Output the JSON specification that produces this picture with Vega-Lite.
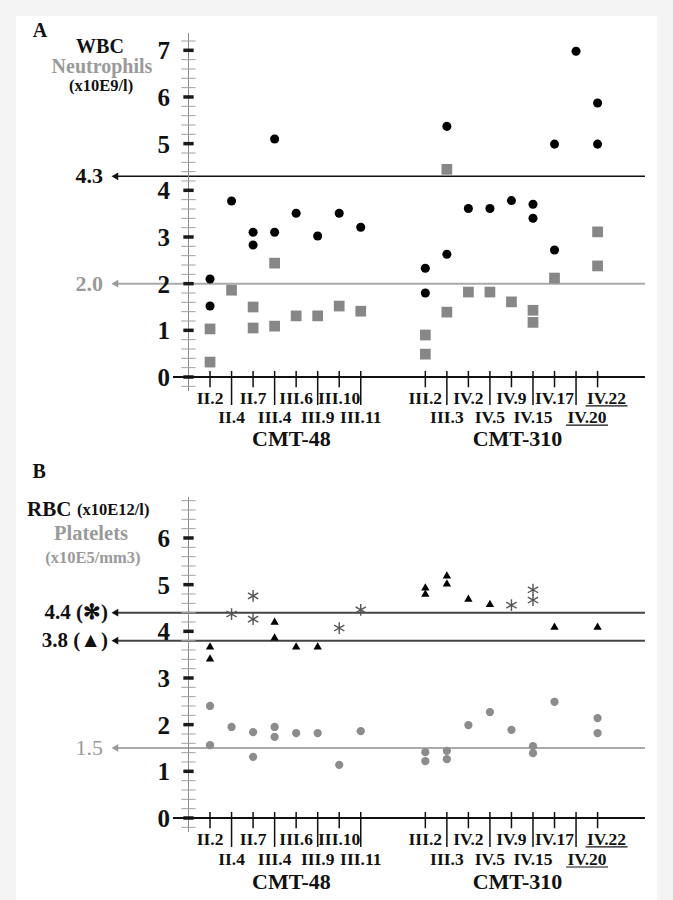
{
  "$schema": "https://vega.github.io/schema/vega-lite/v6.json",
  "background": "#f4f4f4",
  "padding": {"left": 16, "top": 16, "right": 16, "bottom": 0},
  "spacing": 0,
  "config": {"view": {"fill": "white", "stroke": null}},
  "datasets": {
    "subj": [
      {"s": "II.2", "i": 1, "row": 1, "grp": "CMT-48", "ul": false},
      {"s": "II.4", "i": 2, "row": 2, "grp": "CMT-48", "ul": false},
      {"s": "II.7", "i": 3, "row": 1, "grp": "CMT-48", "ul": false},
      {"s": "III.4", "i": 4, "row": 2, "grp": "CMT-48", "ul": false},
      {"s": "III.6", "i": 5, "row": 1, "grp": "CMT-48", "ul": false},
      {"s": "III.9", "i": 6, "row": 2, "grp": "CMT-48", "ul": false},
      {"s": "III.10", "i": 7, "row": 1, "grp": "CMT-48", "ul": false},
      {"s": "III.11", "i": 8, "row": 2, "grp": "CMT-48", "ul": false},
      {"s": "III.2", "i": 11, "row": 1, "grp": "CMT-310", "ul": false},
      {"s": "III.3", "i": 12, "row": 2, "grp": "CMT-310", "ul": false},
      {"s": "IV.2", "i": 13, "row": 1, "grp": "CMT-310", "ul": false},
      {"s": "IV.5", "i": 14, "row": 2, "grp": "CMT-310", "ul": false},
      {"s": "IV.9", "i": 15, "row": 1, "grp": "CMT-310", "ul": false},
      {"s": "IV.15", "i": 16, "row": 2, "grp": "CMT-310", "ul": false},
      {"s": "IV.17", "i": 17, "row": 1, "grp": "CMT-310", "ul": false},
      {"s": "IV.20", "i": 18, "row": 2, "grp": "CMT-310", "ul": true},
      {"s": "IV.22", "i": 19, "row": 1, "grp": "CMT-310", "ul": true}
    ],
    "pa": [
      {"s": "II.2", "i": 1, "m": "WBC", "v": 2.10},
      {"s": "II.2", "i": 1, "m": "WBC", "v": 1.52},
      {"s": "II.2", "i": 1, "m": "Neu", "v": 1.03},
      {"s": "II.2", "i": 1, "m": "Neu", "v": 0.32},
      {"s": "II.4", "i": 2, "m": "WBC", "v": 3.77},
      {"s": "II.4", "i": 2, "m": "Neu", "v": 1.86},
      {"s": "II.7", "i": 3, "m": "WBC", "v": 3.10},
      {"s": "II.7", "i": 3, "m": "WBC", "v": 2.83},
      {"s": "II.7", "i": 3, "m": "Neu", "v": 1.50},
      {"s": "II.7", "i": 3, "m": "Neu", "v": 1.05},
      {"s": "III.4", "i": 4, "m": "WBC", "v": 5.10},
      {"s": "III.4", "i": 4, "m": "WBC", "v": 3.10},
      {"s": "III.4", "i": 4, "m": "Neu", "v": 2.44},
      {"s": "III.4", "i": 4, "m": "Neu", "v": 1.09},
      {"s": "III.6", "i": 5, "m": "WBC", "v": 3.51},
      {"s": "III.6", "i": 5, "m": "Neu", "v": 1.31},
      {"s": "III.9", "i": 6, "m": "WBC", "v": 3.02},
      {"s": "III.9", "i": 6, "m": "Neu", "v": 1.31},
      {"s": "III.10", "i": 7, "m": "WBC", "v": 3.51},
      {"s": "III.10", "i": 7, "m": "Neu", "v": 1.52},
      {"s": "III.11", "i": 8, "m": "WBC", "v": 3.21},
      {"s": "III.11", "i": 8, "m": "Neu", "v": 1.41},
      {"s": "III.2", "i": 11, "m": "WBC", "v": 2.33},
      {"s": "III.2", "i": 11, "m": "WBC", "v": 1.80},
      {"s": "III.2", "i": 11, "m": "Neu", "v": 0.90},
      {"s": "III.2", "i": 11, "m": "Neu", "v": 0.49},
      {"s": "III.3", "i": 12, "m": "WBC", "v": 5.37},
      {"s": "III.3", "i": 12, "m": "WBC", "v": 2.63},
      {"s": "III.3", "i": 12, "m": "Neu", "v": 4.45},
      {"s": "III.3", "i": 12, "m": "Neu", "v": 1.39},
      {"s": "IV.2", "i": 13, "m": "WBC", "v": 3.61},
      {"s": "IV.2", "i": 13, "m": "Neu", "v": 1.82},
      {"s": "IV.5", "i": 14, "m": "WBC", "v": 3.61},
      {"s": "IV.5", "i": 14, "m": "Neu", "v": 1.82},
      {"s": "IV.9", "i": 15, "m": "WBC", "v": 3.78},
      {"s": "IV.9", "i": 15, "m": "Neu", "v": 1.61},
      {"s": "IV.15", "i": 16, "m": "WBC", "v": 3.70},
      {"s": "IV.15", "i": 16, "m": "WBC", "v": 3.40},
      {"s": "IV.15", "i": 16, "m": "Neu", "v": 1.43},
      {"s": "IV.15", "i": 16, "m": "Neu", "v": 1.17},
      {"s": "IV.17", "i": 17, "m": "WBC", "v": 4.99},
      {"s": "IV.17", "i": 17, "m": "WBC", "v": 2.72},
      {"s": "IV.17", "i": 17, "m": "Neu", "v": 2.12},
      {"s": "IV.20", "i": 18, "m": "WBC", "v": 6.98},
      {"s": "IV.22", "i": 19, "m": "WBC", "v": 5.87},
      {"s": "IV.22", "i": 19, "m": "WBC", "v": 4.99},
      {"s": "IV.22", "i": 19, "m": "Neu", "v": 3.11},
      {"s": "IV.22", "i": 19, "m": "Neu", "v": 2.38}
    ],
    "pb": [
      {"s": "II.2", "i": 1, "m": "RBC_F", "v": 3.69},
      {"s": "II.2", "i": 1, "m": "RBC_F", "v": 3.43},
      {"s": "II.2", "i": 1, "m": "PLT", "v": 2.40},
      {"s": "II.2", "i": 1, "m": "PLT", "v": 1.56},
      {"s": "II.4", "i": 2, "m": "RBC_M", "v": 4.37},
      {"s": "II.4", "i": 2, "m": "PLT", "v": 1.95},
      {"s": "II.7", "i": 3, "m": "RBC_M", "v": 4.76},
      {"s": "II.7", "i": 3, "m": "RBC_M", "v": 4.26},
      {"s": "II.7", "i": 3, "m": "PLT", "v": 1.84},
      {"s": "II.7", "i": 3, "m": "PLT", "v": 1.31},
      {"s": "III.4", "i": 4, "m": "RBC_F", "v": 4.22},
      {"s": "III.4", "i": 4, "m": "RBC_F", "v": 3.88},
      {"s": "III.4", "i": 4, "m": "PLT", "v": 1.95},
      {"s": "III.4", "i": 4, "m": "PLT", "v": 1.74},
      {"s": "III.6", "i": 5, "m": "RBC_F", "v": 3.69},
      {"s": "III.6", "i": 5, "m": "PLT", "v": 1.82},
      {"s": "III.9", "i": 6, "m": "RBC_F", "v": 3.69},
      {"s": "III.9", "i": 6, "m": "PLT", "v": 1.82},
      {"s": "III.10", "i": 7, "m": "RBC_M", "v": 4.07},
      {"s": "III.10", "i": 7, "m": "PLT", "v": 1.14},
      {"s": "III.11", "i": 8, "m": "RBC_M", "v": 4.46},
      {"s": "III.11", "i": 8, "m": "PLT", "v": 1.86},
      {"s": "III.2", "i": 11, "m": "RBC_F", "v": 4.95},
      {"s": "III.2", "i": 11, "m": "RBC_F", "v": 4.82},
      {"s": "III.2", "i": 11, "m": "PLT", "v": 1.41},
      {"s": "III.2", "i": 11, "m": "PLT", "v": 1.22},
      {"s": "III.3", "i": 12, "m": "RBC_F", "v": 5.21},
      {"s": "III.3", "i": 12, "m": "RBC_F", "v": 5.04},
      {"s": "III.3", "i": 12, "m": "PLT", "v": 1.44},
      {"s": "III.3", "i": 12, "m": "PLT", "v": 1.26},
      {"s": "IV.2", "i": 13, "m": "RBC_F", "v": 4.71},
      {"s": "IV.2", "i": 13, "m": "PLT", "v": 1.99},
      {"s": "IV.5", "i": 14, "m": "RBC_F", "v": 4.60},
      {"s": "IV.5", "i": 14, "m": "PLT", "v": 2.27},
      {"s": "IV.9", "i": 15, "m": "RBC_M", "v": 4.56},
      {"s": "IV.9", "i": 15, "m": "PLT", "v": 1.89},
      {"s": "IV.15", "i": 16, "m": "RBC_M", "v": 4.89},
      {"s": "IV.15", "i": 16, "m": "RBC_M", "v": 4.67},
      {"s": "IV.15", "i": 16, "m": "PLT", "v": 1.54},
      {"s": "IV.15", "i": 16, "m": "PLT", "v": 1.39},
      {"s": "IV.17", "i": 17, "m": "RBC_F", "v": 4.11},
      {"s": "IV.17", "i": 17, "m": "PLT", "v": 2.49},
      {"s": "IV.22", "i": 19, "m": "RBC_F", "v": 4.11},
      {"s": "IV.22", "i": 19, "m": "PLT", "v": 2.14},
      {"s": "IV.22", "i": 19, "m": "PLT", "v": 1.82}
    ],
    "majA": [{"v": 0}, {"v": 1}, {"v": 2}, {"v": 3}, {"v": 4}, {"v": 5}, {"v": 6}, {"v": 7}],
    "majB": [{"v": 0}, {"v": 1}, {"v": 2}, {"v": 3}, {"v": 4}, {"v": 5}, {"v": 6}],
    "minA": [{"v": -0.2}, {"v": 0.2}, {"v": 0.4}, {"v": 0.6}, {"v": 0.8}, {"v": 1.2}, {"v": 1.4}, {"v": 1.6}, {"v": 1.8}, {"v": 2.2}, {"v": 2.4}, {"v": 2.6}, {"v": 2.8}, {"v": 3.2}, {"v": 3.4}, {"v": 3.6}, {"v": 3.8}, {"v": 4.2}, {"v": 4.4}, {"v": 4.6}, {"v": 4.8}, {"v": 5.2}, {"v": 5.4}, {"v": 5.6}, {"v": 5.8}, {"v": 6.2}, {"v": 6.4}, {"v": 6.6}, {"v": 6.8}, {"v": 7.2}],
    "minB": [{"v": -0.2}, {"v": 0.2}, {"v": 0.4}, {"v": 0.6}, {"v": 0.8}, {"v": 1.2}, {"v": 1.4}, {"v": 1.6}, {"v": 1.8}, {"v": 2.2}, {"v": 2.4}, {"v": 2.6}, {"v": 2.8}, {"v": 3.2}, {"v": 3.4}, {"v": 3.6}, {"v": 3.8}, {"v": 4.2}, {"v": 4.4}, {"v": 4.6}, {"v": 4.8}, {"v": 5.2}, {"v": 5.4}, {"v": 5.6}, {"v": 5.8}, {"v": 6.2}, {"v": 6.4}, {"v": 6.6}, {"v": 6.8}]
  },
  "vconcat": [
    {
      "width": 641,
      "height": 434,
      "layer": [
        {"data": {"values": [{"ref": 4.3, "lab": "4.3"}]},
         "encoding": {"y": {"field": "ref", "type": "quantitative", "scale": {"domain": [-1.564, 7.735], "nice": false, "zero": false}, "axis": null}},
         "layer": [
           {"mark": {"type": "rule", "color": "#111111", "strokeWidth": 1.5},
            "encoding": {"x": {"datum": -3.42, "type": "quantitative", "scale": {"domain": [-8.012, 21.76], "nice": false, "zero": false}, "axis": null}, "x2": {"datum": 21.2}}},
           {"mark": {"type": "point", "shape": "triangle-left", "filled": true, "color": "#111111", "size": 60, "opacity": 1},
            "encoding": {"x": {"datum": -3.42, "type": "quantitative", "scale": {"domain": [-8.012, 21.76], "nice": false, "zero": false}, "axis": null}}},
           {"mark": {"type": "text", "align": "right", "baseline": "middle", "font": "Liberation Serif", "fontWeight": "bold", "fontSize": 22, "color": "#111111"},
            "encoding": {"x": {"datum": -3.97, "type": "quantitative", "scale": {"domain": [-8.012, 21.76], "nice": false, "zero": false}, "axis": null}, "text": {"field": "lab"}}}
         ]},
        {"data": {"values": [{"ref": 2.0, "lab": "2.0"}]},
         "encoding": {"y": {"field": "ref", "type": "quantitative", "scale": {"domain": [-1.564, 7.735], "nice": false, "zero": false}, "axis": null}},
         "layer": [
           {"mark": {"type": "rule", "color": "#aaaaaa", "strokeWidth": 2},
            "encoding": {"x": {"datum": -3.42, "type": "quantitative", "scale": {"domain": [-8.012, 21.76], "nice": false, "zero": false}, "axis": null}, "x2": {"datum": 21.2}}},
           {"mark": {"type": "point", "shape": "triangle-left", "filled": true, "color": "#9a9a9a", "size": 60, "opacity": 1},
            "encoding": {"x": {"datum": -3.42, "type": "quantitative", "scale": {"domain": [-8.012, 21.76], "nice": false, "zero": false}, "axis": null}}},
           {"mark": {"type": "text", "align": "right", "baseline": "middle", "font": "Liberation Serif", "fontWeight": "bold", "fontSize": 22, "color": "#9a9a9a"},
            "encoding": {"x": {"datum": -3.97, "type": "quantitative", "scale": {"domain": [-8.012, 21.76], "nice": false, "zero": false}, "axis": null}, "text": {"field": "lab"}}}
         ]},
        {"data": {"values": [{}]},
         "mark": {"type": "rule", "color": "#8a8a8a", "strokeWidth": 1},
         "encoding": {"x": {"datum": 0, "type": "quantitative", "scale": {"domain": [-8.012, 21.76], "nice": false, "zero": false}, "axis": null},
                      "y": {"datum": -0.3, "type": "quantitative", "scale": {"domain": [-1.564, 7.735], "nice": false, "zero": false}, "axis": null},
                      "y2": {"datum": 7.37}}},
        {"data": {"name": "minA"},
         "mark": {"type": "rule", "color": "#a0a0a0", "strokeWidth": 1},
         "encoding": {"x": {"datum": -0.33, "type": "quantitative", "scale": {"domain": [-8.012, 21.76], "nice": false, "zero": false}, "axis": null},
                      "x2": {"datum": 0.33},
                      "y": {"field": "v", "type": "quantitative", "scale": {"domain": [-1.564, 7.735], "nice": false, "zero": false}, "axis": null}}},
        {"data": {"name": "majA"},
         "encoding": {"y": {"field": "v", "type": "quantitative", "scale": {"domain": [-1.564, 7.735], "nice": false, "zero": false}, "axis": null}},
         "layer": [
           {"mark": {"type": "rule", "color": "#1a1a1a", "strokeWidth": 3.5},
            "encoding": {"x": {"datum": -0.24, "type": "quantitative", "scale": {"domain": [-8.012, 21.76], "nice": false, "zero": false}, "axis": null}, "x2": {"datum": 0.24}}},
           {"mark": {"type": "text", "align": "right", "baseline": "middle", "font": "Liberation Serif", "fontWeight": "bold", "fontSize": 25, "color": "#111111", "dy": 1},
            "encoding": {"x": {"datum": -0.86, "type": "quantitative", "scale": {"domain": [-8.012, 21.76], "nice": false, "zero": false}, "axis": null}, "text": {"field": "v", "type": "quantitative"}}}
         ]},
        {"data": {"values": [{}]},
         "mark": {"type": "rule", "color": "#111111", "strokeWidth": 2},
         "encoding": {"x": {"datum": -0.72, "type": "quantitative", "scale": {"domain": [-8.012, 21.76], "nice": false, "zero": false}, "axis": null},
                      "x2": {"datum": 21.2},
                      "y": {"datum": 0, "type": "quantitative", "scale": {"domain": [-1.564, 7.735], "nice": false, "zero": false}, "axis": null}}},
        {"data": {"name": "subj"},
         "encoding": {"x": {"field": "i", "type": "quantitative", "scale": {"domain": [-8.012, 21.76], "nice": false, "zero": false}, "axis": null}},
         "layer": [
           {"transform": [{"filter": "datum.row == 1"}],
            "mark": {"type": "rule", "color": "#111111", "strokeWidth": 1.5},
            "encoding": {"y": {"datum": 0.13, "type": "quantitative", "scale": {"domain": [-1.564, 7.735], "nice": false, "zero": false}, "axis": null}, "y2": {"datum": -0.22}}},
           {"transform": [{"filter": "datum.row == 2"}],
            "mark": {"type": "rule", "color": "#111111", "strokeWidth": 1.5},
            "encoding": {"y": {"datum": 0.13, "type": "quantitative", "scale": {"domain": [-1.564, 7.735], "nice": false, "zero": false}, "axis": null}, "y2": {"datum": -0.6}}},
           {"transform": [{"filter": "datum.row == 1 && !datum.ul"}],
            "mark": {"type": "text", "align": "center", "baseline": "middle", "font": "Liberation Serif", "fontWeight": "bold", "fontSize": 17.5, "color": "#111111"},
            "encoding": {"y": {"datum": -0.47, "type": "quantitative", "scale": {"domain": [-1.564, 7.735], "nice": false, "zero": false}, "axis": null}, "text": {"field": "s"}}},
           {"transform": [{"filter": "datum.row == 2 && !datum.ul"}],
            "mark": {"type": "text", "align": "center", "baseline": "middle", "font": "Liberation Serif", "fontWeight": "bold", "fontSize": 17.5, "color": "#111111"},
            "encoding": {"y": {"datum": -0.88, "type": "quantitative", "scale": {"domain": [-1.564, 7.735], "nice": false, "zero": false}, "axis": null}, "text": {"field": "s"}}},
           {"transform": [{"filter": "datum.row == 1 && datum.ul"}],
            "mark": {"type": "text", "align": "center", "baseline": "middle", "font": "Liberation Serif", "fontWeight": "bold", "fontSize": 17.5, "color": "#111111", "xOffset": 9},
            "encoding": {"y": {"datum": -0.47, "type": "quantitative", "scale": {"domain": [-1.564, 7.735], "nice": false, "zero": false}, "axis": null}, "text": {"field": "s"}}},
           {"transform": [{"filter": "datum.row == 2 && datum.ul"}],
            "mark": {"type": "text", "align": "center", "baseline": "middle", "font": "Liberation Serif", "fontWeight": "bold", "fontSize": 17.5, "color": "#111111", "xOffset": 11},
            "encoding": {"y": {"datum": -0.88, "type": "quantitative", "scale": {"domain": [-1.564, 7.735], "nice": false, "zero": false}, "axis": null}, "text": {"field": "s"}}},
           {"transform": [{"filter": "datum.row == 1 && datum.ul"}],
            "mark": {"type": "rule", "color": "#111111", "strokeWidth": 1.2, "xOffset": -12, "x2Offset": 30},
            "encoding": {"x2": {"field": "i"}, "y": {"datum": -0.62, "type": "quantitative", "scale": {"domain": [-1.564, 7.735], "nice": false, "zero": false}, "axis": null}}},
           {"transform": [{"filter": "datum.row == 2 && datum.ul"}],
            "mark": {"type": "rule", "color": "#111111", "strokeWidth": 1.2, "xOffset": -10, "x2Offset": 32},
            "encoding": {"x2": {"field": "i"}, "y": {"datum": -1.03, "type": "quantitative", "scale": {"domain": [-1.564, 7.735], "nice": false, "zero": false}, "axis": null}}},
           {"transform": [{"aggregate": [{"op": "mean", "field": "i", "as": "i"}], "groupby": ["grp"]}],
            "mark": {"type": "text", "align": "center", "baseline": "middle", "font": "Liberation Serif", "fontWeight": "bold", "fontSize": 22, "color": "#111111", "xOffset": 6},
            "encoding": {"y": {"datum": -1.32, "type": "quantitative", "scale": {"domain": [-1.564, 7.735], "nice": false, "zero": false}, "axis": null}, "text": {"field": "grp"}}}
         ]},
        {"data": {"name": "pa"},
         "transform": [{"filter": "datum.m == 'Neu'"}],
         "mark": {"type": "point", "shape": "square", "filled": true, "color": "#878787", "size": 115, "opacity": 1},
         "encoding": {"x": {"field": "i", "type": "quantitative", "scale": {"domain": [-8.012, 21.76], "nice": false, "zero": false}, "axis": null},
                      "y": {"field": "v", "type": "quantitative", "scale": {"domain": [-1.564, 7.735], "nice": false, "zero": false}, "axis": null}}},
        {"data": {"name": "pa"},
         "transform": [{"filter": "datum.m == 'WBC'"}],
         "mark": {"type": "point", "shape": "circle", "filled": true, "color": "#000000", "size": 82, "opacity": 1},
         "encoding": {"x": {"field": "i", "type": "quantitative", "scale": {"domain": [-8.012, 21.76], "nice": false, "zero": false}, "axis": null},
                      "y": {"field": "v", "type": "quantitative", "scale": {"domain": [-1.564, 7.735], "nice": false, "zero": false}, "axis": null}}},
        {"data": {"values": [
           {"t": "A", "x": -6.9, "y": 7.41, "k": "big"},
           {"t": "WBC", "x": -4.11, "y": 7.08, "k": "big"},
           {"t": "Neutrophils", "x": -4.02, "y": 6.64, "k": "gray"},
           {"t": "(x10E9/l)", "x": -4.06, "y": 6.24, "k": "small"}
         ]},
         "layer": [
           {"transform": [{"filter": "datum.k == 'big'"}],
            "mark": {"type": "text", "align": "center", "baseline": "middle", "font": "Liberation Serif", "fontWeight": "bold", "fontSize": 20, "color": "#111111"},
            "encoding": {"x": {"field": "x", "type": "quantitative", "scale": {"domain": [-8.012, 21.76], "nice": false, "zero": false}, "axis": null},
                         "y": {"field": "y", "type": "quantitative", "scale": {"domain": [-1.564, 7.735], "nice": false, "zero": false}, "axis": null},
                         "text": {"field": "t"}}},
           {"transform": [{"filter": "datum.k == 'gray'"}],
            "mark": {"type": "text", "align": "center", "baseline": "middle", "font": "Liberation Serif", "fontWeight": "bold", "fontSize": 20, "color": "#9a9a9a"},
            "encoding": {"x": {"field": "x", "type": "quantitative", "scale": {"domain": [-8.012, 21.76], "nice": false, "zero": false}, "axis": null},
                         "y": {"field": "y", "type": "quantitative", "scale": {"domain": [-1.564, 7.735], "nice": false, "zero": false}, "axis": null},
                         "text": {"field": "t"}}},
           {"transform": [{"filter": "datum.k == 'small'"}],
            "mark": {"type": "text", "align": "center", "baseline": "middle", "font": "Liberation Serif", "fontWeight": "bold", "fontSize": 16.5, "color": "#111111"},
            "encoding": {"x": {"field": "x", "type": "quantitative", "scale": {"domain": [-8.012, 21.76], "nice": false, "zero": false}, "axis": null},
                         "y": {"field": "y", "type": "quantitative", "scale": {"domain": [-1.564, 7.735], "nice": false, "zero": false}, "axis": null},
                         "text": {"field": "t"}}}
         ]}
      ]
    },
    {
      "width": 641,
      "height": 450,
      "layer": [
        {"data": {"values": [{"ref": 4.4, "lab": "4.4 (✻)"}, {"ref": 3.8, "lab": "3.8 (▲)"}]},
         "encoding": {"y": {"field": "ref", "type": "quantitative", "scale": {"domain": [-1.757, 7.885], "nice": false, "zero": false}, "axis": null}},
         "layer": [
           {"mark": {"type": "rule", "color": "#444444", "strokeWidth": 2},
            "encoding": {"x": {"datum": -3.42, "type": "quantitative", "scale": {"domain": [-8.012, 21.76], "nice": false, "zero": false}, "axis": null}, "x2": {"datum": 21.2}}},
           {"mark": {"type": "point", "shape": "triangle-left", "filled": true, "color": "#111111", "size": 60, "opacity": 1},
            "encoding": {"x": {"datum": -3.42, "type": "quantitative", "scale": {"domain": [-8.012, 21.76], "nice": false, "zero": false}, "axis": null}}},
           {"mark": {"type": "text", "align": "right", "baseline": "middle", "font": "Liberation Serif", "fontWeight": "bold", "fontSize": 21, "color": "#111111"},
            "encoding": {"x": {"datum": -3.74, "type": "quantitative", "scale": {"domain": [-8.012, 21.76], "nice": false, "zero": false}, "axis": null}, "text": {"field": "lab"}}}
         ]},
        {"data": {"values": [{"ref": 1.5, "lab": "1.5"}]},
         "encoding": {"y": {"field": "ref", "type": "quantitative", "scale": {"domain": [-1.757, 7.885], "nice": false, "zero": false}, "axis": null}},
         "layer": [
           {"mark": {"type": "rule", "color": "#aaaaaa", "strokeWidth": 2},
            "encoding": {"x": {"datum": -3.42, "type": "quantitative", "scale": {"domain": [-8.012, 21.76], "nice": false, "zero": false}, "axis": null}, "x2": {"datum": 21.2}}},
           {"mark": {"type": "point", "shape": "triangle-left", "filled": true, "color": "#9a9a9a", "size": 60, "opacity": 1},
            "encoding": {"x": {"datum": -3.42, "type": "quantitative", "scale": {"domain": [-8.012, 21.76], "nice": false, "zero": false}, "axis": null}}},
           {"mark": {"type": "text", "align": "right", "baseline": "middle", "font": "Liberation Serif", "fontWeight": "normal", "fontSize": 22, "color": "#9a9a9a"},
            "encoding": {"x": {"datum": -3.97, "type": "quantitative", "scale": {"domain": [-8.012, 21.76], "nice": false, "zero": false}, "axis": null}, "text": {"field": "lab"}}}
         ]},
        {"data": {"values": [{}]},
         "mark": {"type": "rule", "color": "#8a8a8a", "strokeWidth": 1},
         "encoding": {"x": {"datum": 0, "type": "quantitative", "scale": {"domain": [-8.012, 21.76], "nice": false, "zero": false}, "axis": null},
                      "y": {"datum": -0.3, "type": "quantitative", "scale": {"domain": [-1.757, 7.885], "nice": false, "zero": false}, "axis": null},
                      "y2": {"datum": 6.88}}},
        {"data": {"name": "minB"},
         "mark": {"type": "rule", "color": "#a0a0a0", "strokeWidth": 1},
         "encoding": {"x": {"datum": -0.33, "type": "quantitative", "scale": {"domain": [-8.012, 21.76], "nice": false, "zero": false}, "axis": null},
                      "x2": {"datum": 0.33},
                      "y": {"field": "v", "type": "quantitative", "scale": {"domain": [-1.757, 7.885], "nice": false, "zero": false}, "axis": null}}},
        {"data": {"name": "majB"},
         "encoding": {"y": {"field": "v", "type": "quantitative", "scale": {"domain": [-1.757, 7.885], "nice": false, "zero": false}, "axis": null}},
         "layer": [
           {"mark": {"type": "rule", "color": "#1a1a1a", "strokeWidth": 3.5},
            "encoding": {"x": {"datum": -0.24, "type": "quantitative", "scale": {"domain": [-8.012, 21.76], "nice": false, "zero": false}, "axis": null}, "x2": {"datum": 0.24}}},
           {"mark": {"type": "text", "align": "right", "baseline": "middle", "font": "Liberation Serif", "fontWeight": "bold", "fontSize": 25, "color": "#111111", "dy": 1},
            "encoding": {"x": {"datum": -0.86, "type": "quantitative", "scale": {"domain": [-8.012, 21.76], "nice": false, "zero": false}, "axis": null}, "text": {"field": "v", "type": "quantitative"}}}
         ]},
        {"data": {"values": [{}]},
         "mark": {"type": "rule", "color": "#111111", "strokeWidth": 2},
         "encoding": {"x": {"datum": -0.72, "type": "quantitative", "scale": {"domain": [-8.012, 21.76], "nice": false, "zero": false}, "axis": null},
                      "x2": {"datum": 21.2},
                      "y": {"datum": 0, "type": "quantitative", "scale": {"domain": [-1.757, 7.885], "nice": false, "zero": false}, "axis": null}}},
        {"data": {"name": "subj"},
         "encoding": {"x": {"field": "i", "type": "quantitative", "scale": {"domain": [-8.012, 21.76], "nice": false, "zero": false}, "axis": null}},
         "layer": [
           {"transform": [{"filter": "datum.row == 1"}],
            "mark": {"type": "rule", "color": "#111111", "strokeWidth": 1.5},
            "encoding": {"y": {"datum": 0.13, "type": "quantitative", "scale": {"domain": [-1.757, 7.885], "nice": false, "zero": false}, "axis": null}, "y2": {"datum": -0.22}}},
           {"transform": [{"filter": "datum.row == 2"}],
            "mark": {"type": "rule", "color": "#111111", "strokeWidth": 1.5},
            "encoding": {"y": {"datum": 0.13, "type": "quantitative", "scale": {"domain": [-1.757, 7.885], "nice": false, "zero": false}, "axis": null}, "y2": {"datum": -0.62}}},
           {"transform": [{"filter": "datum.row == 1 && !datum.ul"}],
            "mark": {"type": "text", "align": "center", "baseline": "middle", "font": "Liberation Serif", "fontWeight": "bold", "fontSize": 17.5, "color": "#111111"},
            "encoding": {"y": {"datum": -0.47, "type": "quantitative", "scale": {"domain": [-1.757, 7.885], "nice": false, "zero": false}, "axis": null}, "text": {"field": "s"}}},
           {"transform": [{"filter": "datum.row == 2 && !datum.ul"}],
            "mark": {"type": "text", "align": "center", "baseline": "middle", "font": "Liberation Serif", "fontWeight": "bold", "fontSize": 17.5, "color": "#111111"},
            "encoding": {"y": {"datum": -0.9, "type": "quantitative", "scale": {"domain": [-1.757, 7.885], "nice": false, "zero": false}, "axis": null}, "text": {"field": "s"}}},
           {"transform": [{"filter": "datum.row == 1 && datum.ul"}],
            "mark": {"type": "text", "align": "center", "baseline": "middle", "font": "Liberation Serif", "fontWeight": "bold", "fontSize": 17.5, "color": "#111111", "xOffset": 9},
            "encoding": {"y": {"datum": -0.47, "type": "quantitative", "scale": {"domain": [-1.757, 7.885], "nice": false, "zero": false}, "axis": null}, "text": {"field": "s"}}},
           {"transform": [{"filter": "datum.row == 2 && datum.ul"}],
            "mark": {"type": "text", "align": "center", "baseline": "middle", "font": "Liberation Serif", "fontWeight": "bold", "fontSize": 17.5, "color": "#111111", "xOffset": 11},
            "encoding": {"y": {"datum": -0.9, "type": "quantitative", "scale": {"domain": [-1.757, 7.885], "nice": false, "zero": false}, "axis": null}, "text": {"field": "s"}}},
           {"transform": [{"filter": "datum.row == 1 && datum.ul"}],
            "mark": {"type": "rule", "color": "#111111", "strokeWidth": 1.2, "xOffset": -12, "x2Offset": 30},
            "encoding": {"x2": {"field": "i"}, "y": {"datum": -0.62, "type": "quantitative", "scale": {"domain": [-1.757, 7.885], "nice": false, "zero": false}, "axis": null}}},
           {"transform": [{"filter": "datum.row == 2 && datum.ul"}],
            "mark": {"type": "rule", "color": "#111111", "strokeWidth": 1.2, "xOffset": -10, "x2Offset": 32},
            "encoding": {"x2": {"field": "i"}, "y": {"datum": -1.05, "type": "quantitative", "scale": {"domain": [-1.757, 7.885], "nice": false, "zero": false}, "axis": null}}},
           {"transform": [{"aggregate": [{"op": "mean", "field": "i", "as": "i"}], "groupby": ["grp"]}],
            "mark": {"type": "text", "align": "center", "baseline": "middle", "font": "Liberation Serif", "fontWeight": "bold", "fontSize": 22, "color": "#111111", "xOffset": 6},
            "encoding": {"y": {"datum": -1.38, "type": "quantitative", "scale": {"domain": [-1.757, 7.885], "nice": false, "zero": false}, "axis": null}, "text": {"field": "grp"}}}
         ]},
        {"data": {"name": "pb"},
         "transform": [{"filter": "datum.m == 'PLT'"}],
         "mark": {"type": "point", "shape": "circle", "filled": true, "color": "#8c8c8c", "size": 68, "opacity": 1},
         "encoding": {"x": {"field": "i", "type": "quantitative", "scale": {"domain": [-8.012, 21.76], "nice": false, "zero": false}, "axis": null},
                      "y": {"field": "v", "type": "quantitative", "scale": {"domain": [-1.757, 7.885], "nice": false, "zero": false}, "axis": null}}},
        {"data": {"name": "pb"},
         "transform": [{"filter": "datum.m == 'RBC_F'"}],
         "mark": {"type": "point", "shape": "triangle-up", "filled": true, "color": "#000000", "size": 70, "opacity": 1},
         "encoding": {"x": {"field": "i", "type": "quantitative", "scale": {"domain": [-8.012, 21.76], "nice": false, "zero": false}, "axis": null},
                      "y": {"field": "v", "type": "quantitative", "scale": {"domain": [-1.757, 7.885], "nice": false, "zero": false}, "axis": null}}},
        {"data": {"name": "pb"},
         "transform": [{"filter": "datum.m == 'RBC_M'"}],
         "mark": {"type": "point", "shape": "M0,-1L0,1M-0.87,-0.5L0.87,0.5M-0.87,0.5L0.87,-0.5", "filled": false, "color": "#555555", "strokeWidth": 1.4, "size": 140, "opacity": 1},
         "encoding": {"x": {"field": "i", "type": "quantitative", "scale": {"domain": [-8.012, 21.76], "nice": false, "zero": false}, "axis": null},
                      "y": {"field": "v", "type": "quantitative", "scale": {"domain": [-1.757, 7.885], "nice": false, "zero": false}, "axis": null}}},
        {"data": {"values": [
           {"t": "B", "x": -6.94, "y": 7.41, "k": "big"},
           {"t": "RBC", "x": -7.5, "y": 6.6, "k": "bigL"},
           {"t": "(x10E12/l)", "x": -5.18, "y": 6.6, "k": "smallL"},
           {"t": "Platelets", "x": -4.53, "y": 6.09, "k": "gray"},
           {"t": "(x10E5/mm3)", "x": -4.44, "y": 5.57, "k": "graySmall"}
         ]},
         "layer": [
           {"transform": [{"filter": "datum.k == 'big'"}],
            "mark": {"type": "text", "align": "center", "baseline": "middle", "font": "Liberation Serif", "fontWeight": "bold", "fontSize": 20, "color": "#111111"},
            "encoding": {"x": {"field": "x", "type": "quantitative", "scale": {"domain": [-8.012, 21.76], "nice": false, "zero": false}, "axis": null},
                         "y": {"field": "y", "type": "quantitative", "scale": {"domain": [-1.757, 7.885], "nice": false, "zero": false}, "axis": null},
                         "text": {"field": "t"}}},
           {"transform": [{"filter": "datum.k == 'bigL'"}],
            "mark": {"type": "text", "align": "left", "baseline": "middle", "font": "Liberation Serif", "fontWeight": "bold", "fontSize": 21, "color": "#111111"},
            "encoding": {"x": {"field": "x", "type": "quantitative", "scale": {"domain": [-8.012, 21.76], "nice": false, "zero": false}, "axis": null},
                         "y": {"field": "y", "type": "quantitative", "scale": {"domain": [-1.757, 7.885], "nice": false, "zero": false}, "axis": null},
                         "text": {"field": "t"}}},
           {"transform": [{"filter": "datum.k == 'smallL'"}],
            "mark": {"type": "text", "align": "left", "baseline": "middle", "font": "Liberation Serif", "fontWeight": "bold", "fontSize": 16.5, "color": "#111111"},
            "encoding": {"x": {"field": "x", "type": "quantitative", "scale": {"domain": [-8.012, 21.76], "nice": false, "zero": false}, "axis": null},
                         "y": {"field": "y", "type": "quantitative", "scale": {"domain": [-1.757, 7.885], "nice": false, "zero": false}, "axis": null},
                         "text": {"field": "t"}}},
           {"transform": [{"filter": "datum.k == 'gray'"}],
            "mark": {"type": "text", "align": "center", "baseline": "middle", "font": "Liberation Serif", "fontWeight": "bold", "fontSize": 20.5, "color": "#9a9a9a"},
            "encoding": {"x": {"field": "x", "type": "quantitative", "scale": {"domain": [-8.012, 21.76], "nice": false, "zero": false}, "axis": null},
                         "y": {"field": "y", "type": "quantitative", "scale": {"domain": [-1.757, 7.885], "nice": false, "zero": false}, "axis": null},
                         "text": {"field": "t"}}},
           {"transform": [{"filter": "datum.k == 'graySmall'"}],
            "mark": {"type": "text", "align": "center", "baseline": "middle", "font": "Liberation Serif", "fontWeight": "bold", "fontSize": 16.5, "color": "#9a9a9a"},
            "encoding": {"x": {"field": "x", "type": "quantitative", "scale": {"domain": [-8.012, 21.76], "nice": false, "zero": false}, "axis": null},
                         "y": {"field": "y", "type": "quantitative", "scale": {"domain": [-1.757, 7.885], "nice": false, "zero": false}, "axis": null},
                         "text": {"field": "t"}}}
         ]}
      ]
    }
  ]
}
